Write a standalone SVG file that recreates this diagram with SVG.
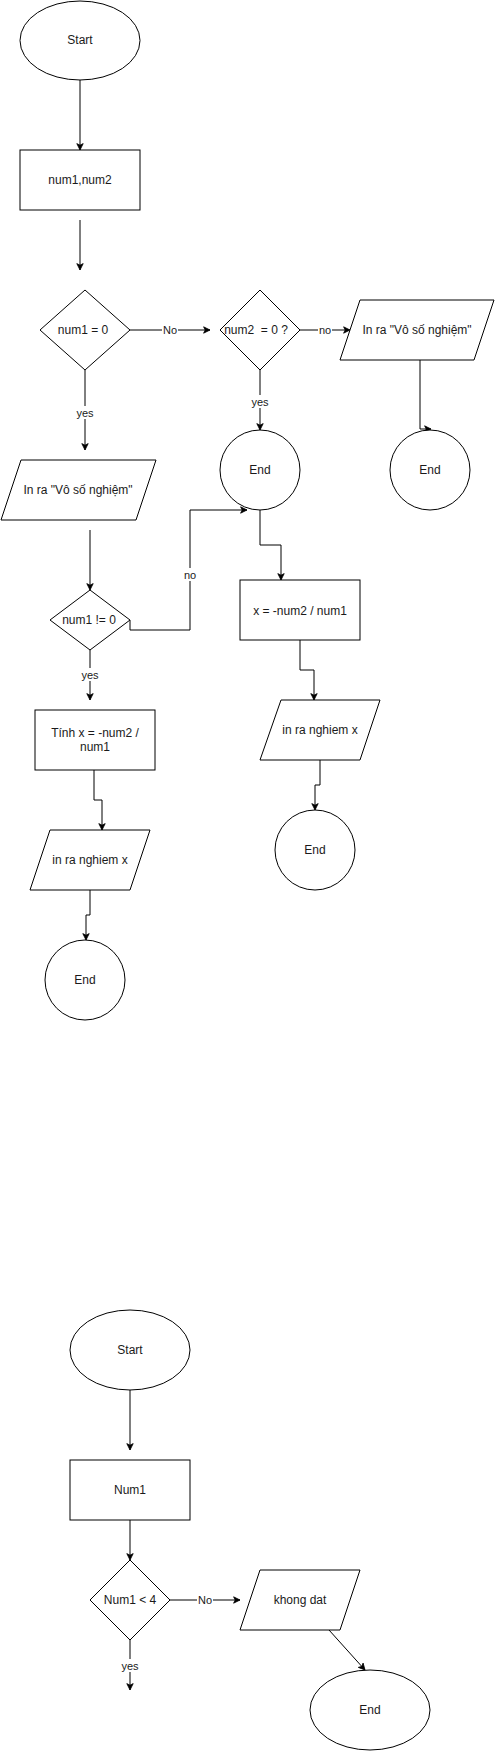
<svg xmlns="http://www.w3.org/2000/svg" width="495" height="1751" viewBox="0 0 495 1751">
<style>
.s{fill:#fff;stroke:#000;stroke-width:1}
.t{font-family:"Liberation Sans",Arial,sans-serif;font-size:12px;fill:#1a1a1a;text-anchor:middle}
.l{font-family:"Liberation Sans",Arial,sans-serif;font-size:11px;fill:#1a1a1a;text-anchor:middle}
.c{fill:none;stroke:#000;stroke-width:1;marker-end:url(#a)}
.bg{fill:#fff}
</style>
<defs>
<marker id="a" viewBox="0 0 10 10" refX="9" refY="5" markerWidth="8" markerHeight="8" markerUnits="userSpaceOnUse" orient="auto">
<path d="M1,1 L9,5 L1,9 L3,5 z" fill="#000" stroke="#000" stroke-width="1"/>
</marker>
</defs>
<rect width="495" height="1751" fill="#fff"/>
<g id="connectors">
<path class="c" d="M80,80 V150"/>
<path class="c" d="M80,220 V270"/>
<path class="c" d="M130,330 H210"/>
<path class="c" d="M300,330 H350"/>
<path class="c" d="M420,360 V429 H431"/>
<path class="c" d="M260,370 V430"/>
<path class="c" d="M85,370 V450"/>
<path class="c" d="M90,530 V590"/>
<path class="c" d="M130,620 V630 H190 V510 H247"/>
<path class="c" d="M260,510 V545 H281 V580"/>
<path class="c" d="M300,640 V670 H314 V700"/>
<path class="c" d="M320,760 V785 H315 V810"/>
<path class="c" d="M90,650 V700"/>
<path class="c" d="M94,770 V800 H102 V830"/>
<path class="c" d="M90,890 V915 H86 V940"/>
<path class="c" d="M130,1390 V1450"/>
<path class="c" d="M130,1520 V1560"/>
<path class="c" d="M170,1600 H240"/>
<path class="c" d="M329,1630 L365,1670"/>
<path class="c" d="M130,1640 V1690"/>
<g id="labels">
<rect class="bg" x="162" y="323" width="16" height="13"/><text class="l" x="170" y="334">No</text>
<rect class="bg" x="318" y="323" width="14" height="13"/><text class="l" x="325" y="334">no</text>
<rect class="bg" x="251" y="395" width="18" height="13"/><text class="l" x="260" y="406">yes</text>
<rect class="bg" x="76" y="406" width="18" height="13"/><text class="l" x="85" y="417">yes</text>
<rect class="bg" x="183" y="568" width="14" height="13"/><text class="l" x="190" y="579">no</text>
<rect class="bg" x="81" y="668" width="18" height="13"/><text class="l" x="90" y="679">yes</text>
<rect class="bg" x="197" y="1593" width="16" height="13"/><text class="l" x="205" y="1604">No</text>
<rect class="bg" x="121" y="1659" width="18" height="13"/><text class="l" x="130" y="1670">yes</text>
</g>
</g>
<g id="start1"><ellipse class="s" cx="80" cy="40.5" rx="60" ry="39.5"/><text class="t" x="80" y="44">Start</text></g>
<g id="input1"><rect class="s" x="20" y="150" width="120" height="60"/><text class="t" x="80" y="184">num1,num2</text></g>
<g id="dec1"><polygon class="s" points="85,290 130,330 85,370 40,330"/><text class="t" x="83" y="334">num1 = 0</text></g>
<g id="dec2"><polygon class="s" points="260,290 300,330 260,370 220,330"/><text class="t" x="256" y="334" xml:space="preserve">num2  = 0 ?</text></g>
<g id="outR"><polygon class="s" points="360,300 494,300 474,360 340,360"/><text class="t" x="417" y="334">In ra "Vô số nghiệm"</text></g>
<g id="endR"><circle class="s" cx="430" cy="470" r="40"/><text class="t" x="430" y="474">End</text></g>
<g id="endM"><circle class="s" cx="260" cy="470" r="40"/><text class="t" x="260" y="474">End</text></g>
<g id="outL"><polygon class="s" points="21,460 156,460 136,520 1,520"/><text class="t" x="78" y="494">In ra "Vô số nghiệm"</text></g>
<g id="dec3"><polygon class="s" points="90,590 130,620 90,650 50,620"/><text class="t" x="89" y="624">num1 != 0</text></g>
<g id="calcR"><rect class="s" x="240" y="580" width="120" height="60"/><text class="t" x="300" y="615">x = -num2 / num1</text></g>
<g id="outR2"><polygon class="s" points="281,700 380,700 360,760 260,760"/><text class="t" x="320" y="734">in ra nghiem x</text></g>
<g id="endR2"><circle class="s" cx="315" cy="850" r="40"/><text class="t" x="315" y="854">End</text></g>
<g id="calcL"><rect class="s" x="35" y="710" width="120" height="60"/><text class="t" x="95" y="737">Tính x = -num2 /</text><text class="t" x="95" y="751">num1</text></g>
<g id="outL2"><polygon class="s" points="50,830 150,830 130,890 30,890"/><text class="t" x="90" y="864">in ra nghiem x</text></g>
<g id="endL"><circle class="s" cx="85" cy="980" r="40"/><text class="t" x="85" y="984">End</text></g>
<g id="start2"><ellipse class="s" cx="130" cy="1350" rx="60" ry="40"/><text class="t" x="130" y="1354">Start</text></g>
<g id="input2"><rect class="s" x="70" y="1460" width="120" height="60"/><text class="t" x="130" y="1494">Num1</text></g>
<g id="dec4"><polygon class="s" points="130,1560 170,1600 130,1640 90,1600"/><text class="t" x="130" y="1604">Num1 &lt; 4</text></g>
<g id="out3"><polygon class="s" points="260,1570 360,1570 340,1630 240,1630"/><text class="t" x="300" y="1604">khong dat</text></g>
<g id="end3"><ellipse class="s" cx="370" cy="1710" rx="60" ry="40"/><text class="t" x="370" y="1714">End</text></g>
</svg>
